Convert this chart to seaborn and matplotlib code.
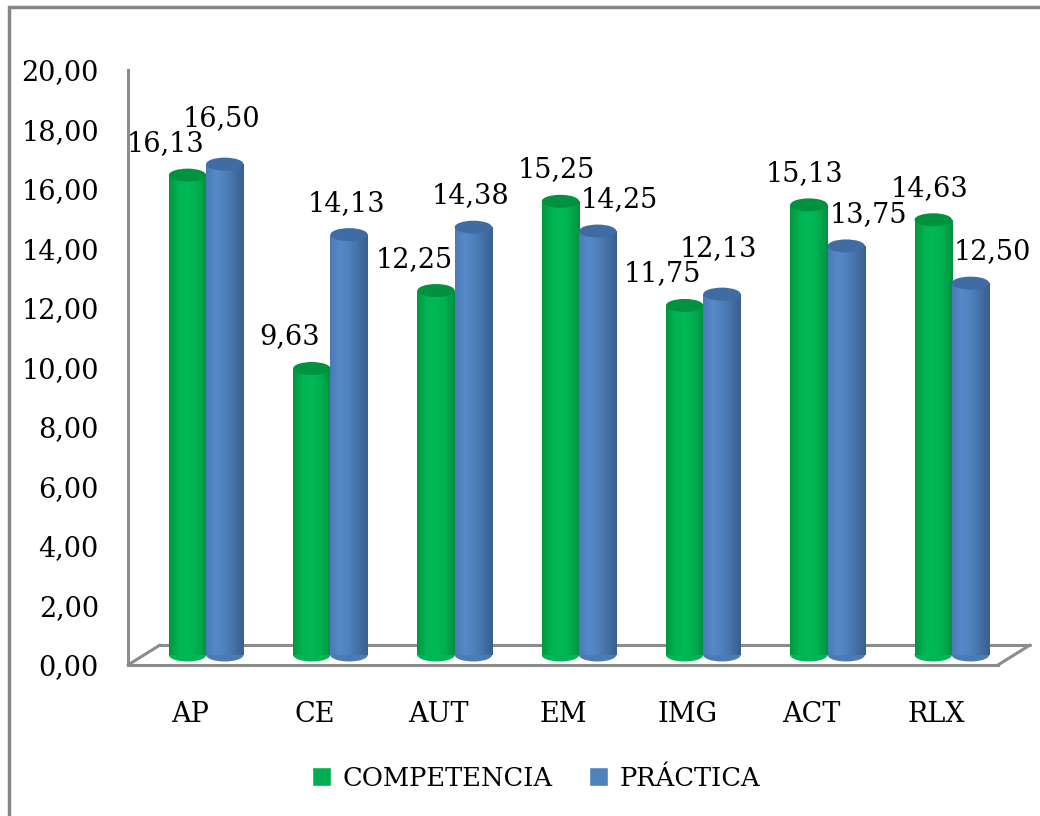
import matplotlib
matplotlib.use("Agg")
import matplotlib.pyplot as plt
import matplotlib.transforms as mtransforms
from matplotlib.patches import Ellipse, Rectangle, Patch
from matplotlib.colors import LinearSegmentedColormap
import numpy as np
import pandas as pd
import seaborn as sns

# data
categories = ["AP", "CE", "AUT", "EM", "IMG", "ACT", "RLX"]
competencia = [16.13, 9.63, 12.25, 15.25, 11.75, 15.13, 14.63]
practica = [16.50, 14.13, 14.38, 14.25, 12.13, 13.75, 12.50]
series = ["COMPETENCIA", "PRÁCTICA"]
yticks = [0, 2, 4, 6, 8, 10, 12, 14, 16, 18, 20]

GREEN = "#00B050"
BLUE = "#4F81BD"
GRAY = "#8C8C8C"
FS = 19.5

df = pd.DataFrame({
    "cat": categories * 2,
    "val": competencia + practica,
    "serie": [series[0]] * 7 + [series[1]] * 7,
})

sns.set_theme(style="white")
plt.rcParams["font.family"] = ["DejaVu Serif", "DejaVu Sans"]
plt.rcParams["text.color"] = "black"

fig = plt.figure(figsize=(10.4, 8.16), dpi=100)
ax = fig.add_axes([128 / 1040, 1 - 665 / 816, 870 / 1040, 595 / 816])

sns.barplot(data=df, x="cat", y="val", hue="serie", palette=[GREEN, BLUE],
            width=0.6, gap=0, legend=False, ax=ax, saturation=1)

ax.set_xlim(-0.5, 6.5)
ax.set_ylim(0, 20)
ax.set_xlabel("")
ax.set_ylabel("")

# depth offset of the 3D floor (in pixels) and bars at mid-depth
dpx, dpy = 32, 20
bar_shift = mtransforms.ScaledTranslation(dpx / 2 / 100, dpy / 2 / 100, fig.dpi_scale_trans)
bar_trans = ax.transData + bar_shift

cmaps = [
    LinearSegmentedColormap.from_list("g", ["#00973F", "#00B452", "#00BA56", "#00AE4E", "#009042"]),
    LinearSegmentedColormap.from_list("b", ["#4A7BB6", "#5689C8", "#4F81BD", "#4470A6", "#385F90"]),
]
caps = ["#00923F", "#3F6CA3"]
cap_h = 13 / 29.75  # ellipse height in data units

for k, cont in enumerate(ax.containers):
    for bar in cont:
        bar.set_transform(bar_trans)
        x, w, h = bar.get_x(), bar.get_width(), bar.get_height()
        grad = np.linspace(0, 1, 64).reshape(1, -1)
        im = ax.imshow(grad, cmap=cmaps[k], aspect="auto", extent=[x, x + w, 0, h],
                       transform=bar_trans, zorder=3, interpolation="bicubic")
        im.set_clip_path(bar)
        ax.add_patch(Ellipse((x + w / 2, 0), w, cap_h, transform=bar_trans,
                             facecolor=cmaps[k](0.6), edgecolor="none", zorder=2.9))
        ax.add_patch(Ellipse((x + w / 2, h), w, cap_h, transform=bar_trans,
                             facecolor=caps[k], edgecolor="none", zorder=3.2))

# value labels: shorter bar's label pushed outward, taller one lifted if the pair collides
px_per_unit = 595 / 20
base = 31.5
for i, (g_bar, b_bar) in enumerate(zip(ax.containers[0], ax.containers[1])):
    hg, hb = g_bar.get_height(), b_bar.get_height()
    yg, yb = base, base
    if hg >= hb:
        dxg, dxb = -4, 22
    else:
        dxg, dxb = -22, -3
    diff = (hg - hb) * px_per_unit  # screen gap between the two labels
    if abs(diff) < 25:
        if hg >= hb:
            yg += 25 - abs(diff)
        else:
            yb += 25 - abs(diff)
    for bar, dx, dy in [(g_bar, dxg, yg), (b_bar, dxb, yb)]:
        h = bar.get_height()
        ax.annotate(f"{h:.2f}".replace(".", ","), xy=(bar.get_x() + bar.get_width() / 2, h),
                    xycoords=bar_trans, xytext=(dx, dy), textcoords="offset pixels",
                    ha="center", va="center", fontsize=FS, color="black", zorder=5)

# axes styling
for s in ["top", "right"]:
    ax.spines[s].set_visible(False)
for s in ["left", "bottom"]:
    ax.spines[s].set_color(GRAY)
    ax.spines[s].set_linewidth(2.2)

ax.set_yticks(yticks)
ax.set_yticklabels([f"{v:.2f}".replace(".", ",") for v in yticks], fontsize=FS, color="black")
ax.tick_params(axis="y", length=7, width=2, color=GRAY, pad=14)
ax.set_xticks(range(len(categories)))
ax.set_xticklabels(categories, fontsize=FS, color="black")
ax.tick_params(axis="x", which="major", length=0, pad=26)
ax.set_xticks(np.arange(-0.5, 7, 1), minor=True)
ax.tick_params(axis="x", which="minor", length=9, width=2, color=GRAY, direction="out")

# 3D floor outline
floor = ax.transData + mtransforms.ScaledTranslation(dpx / 100, dpy / 100, fig.dpi_scale_trans)
ax.plot([-0.5, 6.5], [0, 0], color=GRAY, lw=2.2, transform=floor, clip_on=False, zorder=1)
for xe in [-0.5, 6.5]:
    x0, y0 = ax.transData.transform((xe, 0))
    x1, y1 = floor.transform((xe, 0))
    ax.plot([x0, x1], [y0, y1], color=GRAY, lw=2.2, transform=None, clip_on=False, zorder=1)

# legend
handles = [Patch(facecolor=GREEN, label=series[0]), Patch(facecolor=BLUE, label=series[1])]
fig.legend(handles=handles, loc="center", bbox_to_anchor=(536 / 1040, 1 - 778 / 816), ncol=2,
           frameon=False, fontsize=18.5, handlelength=0.75, handleheight=0.75,
           handletextpad=0.45, columnspacing=1.4, labelcolor="black")

# outer chart border
fig.patches.append(Rectangle((9 / 1040, -0.1), 1.2, 1 - 7 / 816 + 0.1, transform=fig.transFigure,
                             fill=False, edgecolor="#878787", linewidth=2.5))

fig.savefig("out.png", dpi=100)
